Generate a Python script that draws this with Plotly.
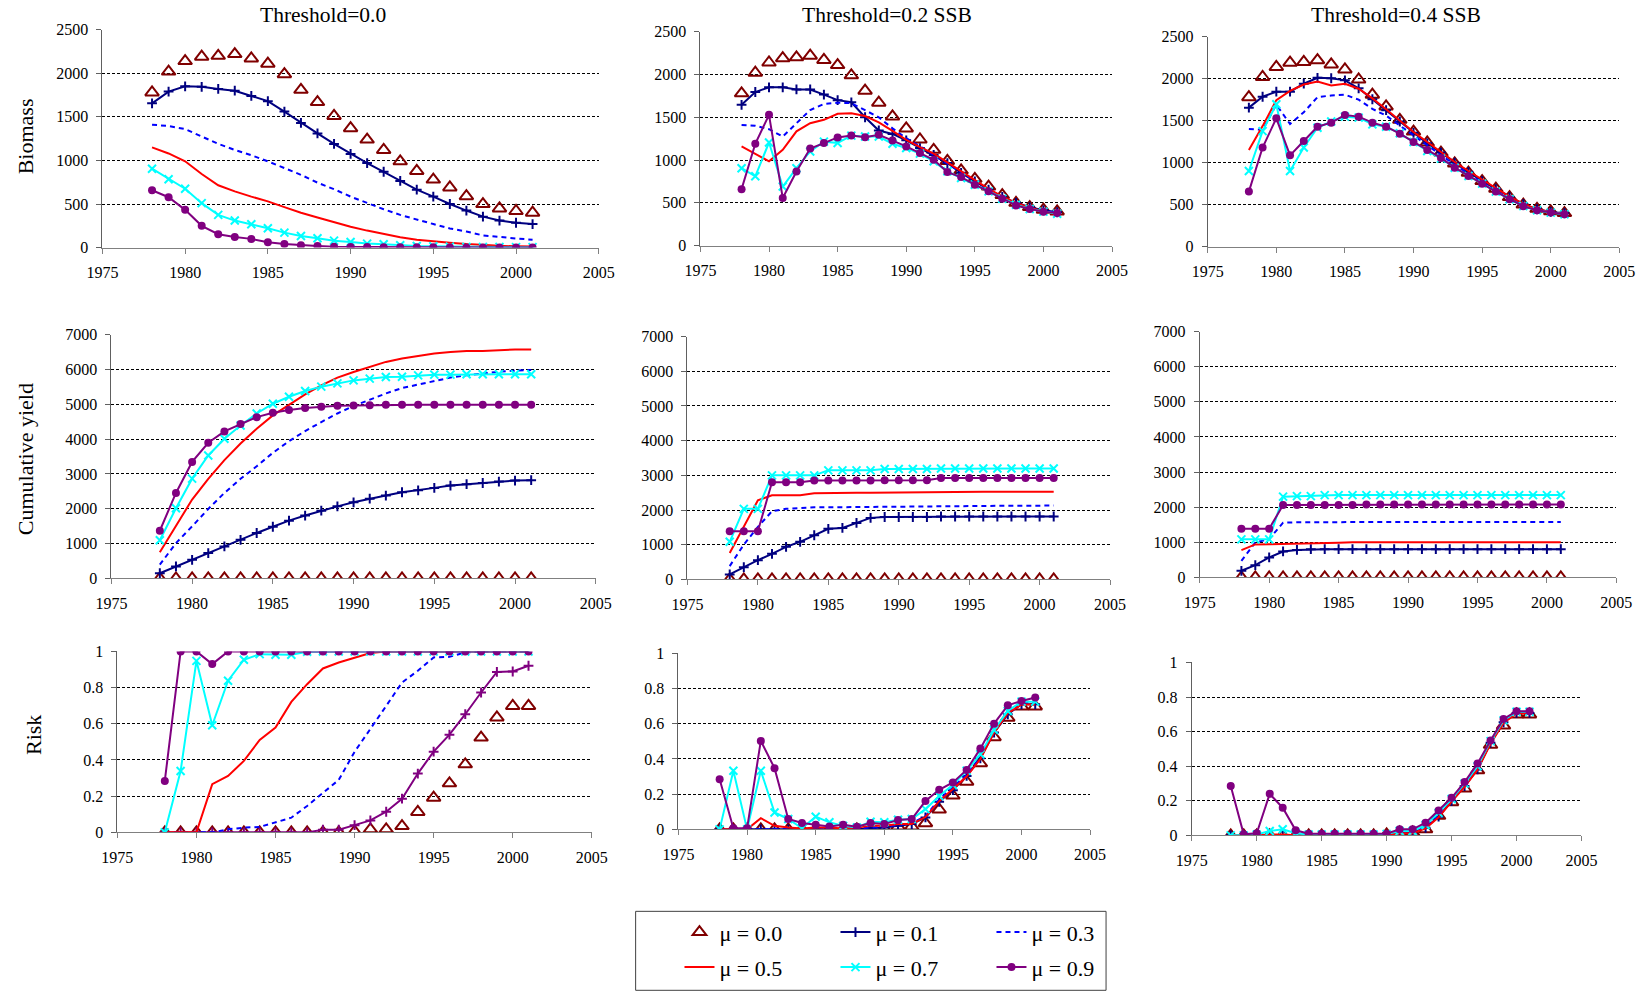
import plotly.graph_objects as go

years = [1978, 1979, 1980, 1981, 1982, 1983, 1984, 1985, 1986, 1987, 1988, 1989,
         1990, 1991, 1992, 1993, 1994, 1995, 1996, 1997, 1998, 1999, 2000, 2001]

mu_labels = ["μ = 0.0", "μ = 0.1", "μ = 0.3", "μ = 0.5", "μ = 0.7", "μ = 0.9"]
thresholds = ["Threshold=0.0", "Threshold=0.2 SSB", "Threshold=0.4 SSB"]
row_titles = ["Biomass", "Cumulative yield", "Risk"]

# ---------------- Biomass ----------------
biomass_mu00 = [1780, 2020, 2140, 2190, 2200, 2220, 2170, 2110, 1990, 1810, 1670, 1510,
                1370, 1240, 1120, 990, 880, 780, 690, 590, 500, 450, 420, 400]

biomass_t00_mu01 = [1655, 1790, 1850, 1845, 1820, 1800, 1740, 1680, 1560, 1430, 1310, 1190,
                    1075, 970, 870, 765, 665, 585, 500, 425, 355, 310, 285, 270]
biomass_t00_mu03 = [1410, 1395, 1360, 1275, 1190, 1120, 1060, 990, 910, 835, 745, 670,
                    585, 510, 440, 375, 320, 270, 220, 185, 140, 120, 105, 90]
biomass_t00_mu05 = [1150, 1080, 990, 845, 715, 645, 585, 530, 465, 400, 345, 290,
                    240, 195, 155, 120, 90, 70, 55, 40, 28, 20, 15, 12]
biomass_t00_mu07 = [905, 785, 675, 510, 375, 310, 268, 222, 172, 134, 107, 80,
                    65, 46, 38, 27, 19, 15, 11, 8, 7, 6, 5, 5]
biomass_t00_mu09 = [658, 578, 433, 250, 153, 122, 100, 61, 42, 27, 19, 11,
                    8, 6, 5, 4, 3, 3, 2, 2, 2, 2, 2, 2]

biomass_t02_mu01 = [1645, 1795, 1850, 1850, 1825, 1825, 1765, 1700, 1675, 1500, 1345, 1305,
                    1230, 1140, 1060, 965, 850, 750, 655, 570, 500, 448, 412, 390]
biomass_t02_mu03 = [1410, 1400, 1360, 1275, 1430, 1585, 1655, 1670, 1665, 1585, 1500, 1370,
                    1255, 1160, 1060, 955, 850, 750, 655, 570, 490, 440, 408, 382]
biomass_t02_mu05 = [1160, 1075, 985, 1120, 1335, 1430, 1470, 1540, 1548, 1515, 1440, 1340,
                    1235, 1150, 1075, 972, 868, 762, 662, 575, 498, 443, 404, 362]
biomass_t02_mu07 = [905, 810, 1205, 690, 905, 1100, 1215, 1200, 1285, 1275, 1275, 1190,
                    1140, 1075, 985, 868, 790, 712, 634, 548, 478, 428, 397, 373]
biomass_t02_mu09 = [660, 1190, 1528, 556, 867, 1135, 1198, 1264, 1287, 1267, 1295, 1229,
                    1159, 1081, 1003, 859, 801, 712, 634, 548, 470, 428, 397, 381]

biomass_t04_mu01 = [1655, 1785, 1845, 1845, 1940, 2010, 2005, 1980, 1885, 1755, 1625, 1490,
                    1355, 1230, 1120, 1000, 890, 780, 685, 590, 505, 445, 413, 397]
biomass_t04_mu03 = [1400, 1390, 1690, 1460, 1600, 1780, 1800, 1810, 1750, 1640, 1560, 1440,
                    1320, 1200, 1090, 975, 865, 765, 665, 575, 490, 435, 405, 385]
biomass_t04_mu05 = [1150, 1435, 1745, 1855, 1930, 1965, 1920, 1940, 1880, 1765, 1635, 1495,
                    1365, 1245, 1125, 1008, 900, 795, 690, 595, 512, 444, 413, 385]
biomass_t04_mu07 = [900, 1375, 1695, 900, 1180, 1415, 1490, 1548, 1536, 1456, 1428, 1349,
                    1246, 1139, 1048, 940, 841, 750, 655, 563, 484, 432, 405, 385]
biomass_t04_mu09 = [655, 1180, 1528, 1087, 1258, 1428, 1476, 1567, 1548, 1476, 1428, 1345,
                    1246, 1151, 1056, 940, 841, 750, 655, 563, 480, 432, 405, 385]

# ---------------- Cumulative yield ----------------
yield_mu00 = [0, 0, 0, 0, 0, 0, 0, 0, 0, 0, 0, 0, 0, 0, 0, 0, 0, 0, 0, 0, 0, 0, 0, 0]

yield_t00_mu01 = [150, 345, 535, 730, 920, 1110, 1305, 1485, 1660, 1805, 1945, 2070,
                  2185, 2290, 2380, 2475, 2530, 2600, 2665, 2705, 2740, 2780, 2810, 2820]
yield_t00_mu03 = [395, 1015, 1495, 1995, 2455, 2860, 3220, 3605, 3940, 4230, 4490, 4735,
                  4950, 5140, 5310, 5465, 5570, 5665, 5765, 5830, 5890, 5935, 5965, 5985]
yield_t00_mu05 = [750, 1495, 2265, 2860, 3395, 3875, 4295, 4680, 4995, 5285, 5540, 5765,
                  5925, 6080, 6215, 6310, 6385, 6455, 6500, 6530, 6530, 6560, 6570, 6570]
yield_t00_mu07 = [1095, 2015, 2865, 3530, 4010, 4390, 4735, 5015, 5215, 5380, 5505, 5600,
                  5685, 5735, 5780, 5790, 5830, 5850, 5850, 5860, 5860, 5860, 5860, 5860]
yield_t00_mu09 = [1370, 2455, 3345, 3895, 4220, 4430, 4630, 4755, 4835, 4890, 4930, 4955,
                  4965, 4975, 4985, 4985, 4985, 4985, 4985, 4985, 4985, 4985, 4985, 4985]

yield_t02_mu01 = [145, 355, 555, 740, 940, 1085, 1275, 1460, 1485, 1630, 1775, 1800,
                  1800, 1800, 1800, 1815, 1815, 1815, 1815, 1815, 1815, 1815, 1815, 1815]
yield_t02_mu03 = [385, 1005, 1515, 1965, 2035, 2060, 2080, 2080, 2085, 2090, 2095, 2100,
                  2105, 2110, 2110, 2115, 2115, 2120, 2120, 2125, 2125, 2125, 2130, 2130]
yield_t02_mu05 = [765, 1535, 2280, 2425, 2425, 2425, 2485, 2495, 2500, 2500, 2500, 2505,
                  2505, 2510, 2530, 2530, 2530, 2530, 2530, 2530, 2530, 2530, 2530, 2530]
yield_t02_mu07 = [1085, 2035, 2035, 3000, 3000, 3000, 3000, 3145, 3145, 3145, 3145, 3185,
                  3185, 3185, 3185, 3200, 3200, 3200, 3200, 3200, 3200, 3200, 3200, 3200]
yield_t02_mu09 = [1390, 1390, 1390, 2800, 2800, 2800, 2855, 2855, 2855, 2855, 2855, 2860,
                  2860, 2860, 2860, 2925, 2925, 2925, 2925, 2925, 2925, 2925, 2925, 2925]

yield_t04_mu01 = [190, 350, 570, 740, 785, 805, 805, 805, 805, 805, 805, 805,
                  805, 805, 805, 805, 805, 805, 805, 805, 805, 805, 805, 805]
yield_t04_mu03 = [475, 995, 1090, 1560, 1570, 1575, 1580, 1580, 1580, 1580, 1580, 1580,
                  1580, 1580, 1580, 1580, 1580, 1580, 1580, 1580, 1580, 1580, 1580, 1580]
yield_t04_mu05 = [780, 940, 945, 950, 955, 960, 980, 990, 1000, 1005, 1005, 1005,
                  1005, 1005, 1005, 1005, 1005, 1005, 1005, 1005, 1005, 1005, 1005, 1005]
yield_t04_mu07 = [1085, 1085, 1085, 2300, 2315, 2315, 2345, 2345, 2345, 2345, 2345, 2345,
                  2345, 2345, 2345, 2345, 2345, 2345, 2345, 2345, 2345, 2345, 2345, 2345]
yield_t04_mu09 = [1390, 1390, 1390, 2060, 2060, 2060, 2060, 2060, 2060, 2080, 2080, 2080,
                  2080, 2080, 2080, 2080, 2080, 2080, 2080, 2080, 2080, 2080, 2080, 2080]

# ---------------- Risk ----------------
risk_mu00 = [0, 0, 0, 0, 0, 0, 0, 0, 0, 0, 0, 0,
             0.005, 0.017, 0.017, 0.035, 0.113, 0.192, 0.271, 0.376, 0.524, 0.635, 0.699, 0.699]

risk_t00_mu01 = [0, 0, 0, 0, 0, 0, 0, 0, 0, 0, 0.015, 0.015,
                 0.04, 0.066, 0.114, 0.186, 0.325, 0.446, 0.54, 0.653, 0.773, 0.887, 0.889, 0.921]
risk_t00_mu03 = [0, 0, 0, 0, 0.017, 0.026, 0.03, 0.054, 0.081, 0.146, 0.216, 0.29,
                 0.445, 0.57, 0.699, 0.828, 0.893, 0.967, 0.97, 0.994, 1, 1, 1, 1]
risk_t00_mu05 = [0, 0, 0, 0.266, 0.312, 0.395, 0.511, 0.579, 0.721, 0.819, 0.906, 0.939,
                 0.967, 0.991, 1, 1, 1, 1, 1, 1, 1, 1, 1, 1]
risk_t00_mu07 = [0, 0.339, 0.948, 0.592, 0.838, 0.954, 0.985, 0.982, 0.982, 0.998, 1, 1,
                 1, 1, 1, 1, 1, 1, 1, 1, 1, 1, 1, 1]
risk_t00_mu09 = [0.284, 1, 1, 0.93, 1, 1, 1, 1, 1, 1, 1, 1,
                 1, 1, 1, 1, 1, 1, 1, 1, 1, 1, 1, 1]

risk_t02_mu01 = [0, 0, 0, 0, 0, 0, 0, 0, 0, 0, 0, 0.006,
                 0.01, 0.02, 0.03, 0.068, 0.157, 0.223, 0.304, 0.404, 0.55, 0.654, 0.711, 0.711]
risk_t02_mu03 = [0, 0, 0, 0, 0, 0, 0, 0, 0, 0, 0.005, 0.01,
                 0.015, 0.025, 0.035, 0.075, 0.17, 0.24, 0.31, 0.41, 0.56, 0.665, 0.72, 0.72]
risk_t02_mu05 = [0, 0, 0, 0.064, 0.02, 0.01, 0.005, 0.01, 0.01, 0.005, 0.01, 0.02,
                 0.02, 0.03, 0.03, 0.07, 0.16, 0.23, 0.3, 0.4, 0.55, 0.66, 0.71, 0.71]
risk_t02_mu07 = [0, 0.333, 0, 0.333, 0.096, 0.059, 0.006, 0.072, 0.04, 0.02, 0.011, 0.043,
                 0.04, 0.055, 0.059, 0.115, 0.19, 0.253, 0.333, 0.427, 0.565, 0.673, 0.726, 0.726]
risk_t02_mu09 = [0.285, 0.006, 0.006, 0.503, 0.348, 0.059, 0.036, 0.026, 0.017, 0.026, 0.015, 0.036,
                 0.03, 0.053, 0.059, 0.161, 0.225, 0.267, 0.338, 0.459, 0.601, 0.705, 0.73, 0.749]

risk_t04_mu01 = [0, 0, 0, 0, 0, 0, 0, 0, 0, 0, 0, 0,
                 0, 0.015, 0.015, 0.044, 0.108, 0.198, 0.285, 0.381, 0.535, 0.654, 0.708, 0.708]
risk_t04_mu03 = [0, 0, 0, 0, 0, 0, 0, 0, 0, 0, 0, 0,
                 0.003, 0.018, 0.018, 0.05, 0.115, 0.205, 0.29, 0.39, 0.54, 0.66, 0.71, 0.71]
risk_t04_mu05 = [0, 0, 0, 0.005, 0.005, 0, 0, 0, 0, 0, 0, 0,
                 0, 0.012, 0.012, 0.04, 0.105, 0.195, 0.28, 0.38, 0.53, 0.65, 0.705, 0.705]
risk_t04_mu07 = [0, 0, 0.005, 0.025, 0.035, 0.012, 0.005, 0.005, 0.005, 0.005, 0.005, 0.005,
                 0.008, 0.025, 0.025, 0.06, 0.13, 0.21, 0.3, 0.4, 0.545, 0.665, 0.715, 0.715]
risk_t04_mu09 = [0.285, 0.006, 0.012, 0.24, 0.16, 0.029, 0.01, 0.01, 0.01, 0.01, 0.01, 0.01,
                 0.01, 0.035, 0.035, 0.073, 0.144, 0.217, 0.308, 0.415, 0.548, 0.673, 0.717, 0.717]

panels = [
    [biomass_mu00, biomass_t00_mu01, biomass_t00_mu03, biomass_t00_mu05, biomass_t00_mu07, biomass_t00_mu09],
    [biomass_mu00, biomass_t02_mu01, biomass_t02_mu03, biomass_t02_mu05, biomass_t02_mu07, biomass_t02_mu09],
    [biomass_mu00, biomass_t04_mu01, biomass_t04_mu03, biomass_t04_mu05, biomass_t04_mu07, biomass_t04_mu09],
    [yield_mu00, yield_t00_mu01, yield_t00_mu03, yield_t00_mu05, yield_t00_mu07, yield_t00_mu09],
    [yield_mu00, yield_t02_mu01, yield_t02_mu03, yield_t02_mu05, yield_t02_mu07, yield_t02_mu09],
    [yield_mu00, yield_t04_mu01, yield_t04_mu03, yield_t04_mu05, yield_t04_mu07, yield_t04_mu09],
    [risk_mu00, risk_t00_mu01, risk_t00_mu03, risk_t00_mu05, risk_t00_mu07, risk_t00_mu09],
    [risk_mu00, risk_t02_mu01, risk_t02_mu03, risk_t02_mu05, risk_t02_mu07, risk_t02_mu09],
    [risk_mu00, risk_t04_mu01, risk_t04_mu03, risk_t04_mu05, risk_t04_mu07, risk_t04_mu09],
]

W, H = 1648, 993
FONT = "Liberation Serif, Times New Roman, serif"

# the drawing area (paper 0..1) as it lands in the photographed page, in pixels
PX0, PXW = 13.3, 1621.4
PY0, PYH = 8.3, 976.4


def px(xp):
    return (xp - PX0) / PXW


def py(yp):
    return 1 - (yp - PY0) / PYH


# pixel boxes of each plot area: (x_left, x_right, y_top, y_bottom)
boxes = [
    (100, 598, 30, 248), (700, 1113, 32, 246), (1209, 1622, 37, 247),
    (109, 595, 335, 579), (687, 1111, 337, 580), (1201, 1619, 332, 578),
    (115, 591, 652, 833), (678, 1091, 654, 830), (1193, 1584, 663, 836),
]
yranges = [(2500, 500)] * 3 + [(7000, 1000)] * 3 + [(1, 0.2)] * 3

styles = [
    dict(mode="markers", marker=dict(symbol="triangle-up-open", size=12, color="#800000",
                                     line=dict(width=2, color="#800000"))),
    dict(mode="lines+markers", line=dict(color="#000080", width=2),
         marker=dict(symbol="cross-thin", size=7, color="#000080", line=dict(width=2, color="#000080"))),
    dict(mode="lines", line=dict(color="#0000FF", width=2, dash="5px,4px")),
    dict(mode="lines", line=dict(color="#FF0000", width=2)),
    dict(mode="lines+markers", line=dict(color="#00FFFF", width=2),
         marker=dict(symbol="x-thin", size=8, color="#00FFFF", line=dict(width=2, color="#00FFFF"))),
    dict(mode="lines+markers", line=dict(color="#800080", width=2),
         marker=dict(symbol="circle", size=8, color="#800080")),
]

fig = go.Figure()
for p, series in enumerate(panels):
    k = p + 1
    xa = "x" if k == 1 else f"x{k}"
    ya = "y" if k == 1 else f"y{k}"
    for s, vals in enumerate(series):
        st = {key: (dict(v) if isinstance(v, dict) else v) for key, v in styles[s].items()}
        if p == 6 and s == 1:
            st["line"] = dict(color="#800080", width=2)
            st["marker"] = dict(symbol="cross-thin", size=7, color="#800080",
                                line=dict(width=2, color="#800080"))
        fig.add_trace(go.Scatter(
            x=years, y=vals, name=mu_labels[s], xaxis=xa, yaxis=ya,
            showlegend=(p == 0), legend=("legend" if s < 3 else "legend2"),
            hoverinfo="skip", **st))

    xl, xr, yt, yb = boxes[p]
    ymax, dt = yranges[p]
    axis_font = dict(family=FONT, size=16, color="black")
    fig.layout[f"xaxis{k if k > 1 else ''}"] = dict(
        domain=[px(xl), px(xr)], anchor=ya, range=[1975, 2005], tick0=1975, dtick=5,
        showline=True, linecolor="#808080", linewidth=1, ticks="outside", ticklen=5,
        tickcolor="#808080", showgrid=False, zeroline=False, tickfont=axis_font,
        ticklabelstandoff=5, fixedrange=True)
    fig.layout[f"yaxis{k if k > 1 else ''}"] = dict(
        domain=[py(yb), py(yt)], anchor=xa, range=[0, ymax], tick0=0, dtick=dt,
        showline=True, linecolor="#606060", linewidth=1, ticks="outside", ticklen=5,
        tickcolor="#606060", showgrid=True, gridcolor="black", gridwidth=1,
        griddash="3px,2px", zeroline=False, tickfont=axis_font, ticklabelstandoff=5,
        fixedrange=True)

annotations = []
title_x = [321, 887, 1398]
for i, t in enumerate(thresholds):
    annotations.append(dict(text=t, x=px(title_x[i]), y=py(15), xref="paper", yref="paper",
                            showarrow=False, font=dict(family=FONT, size=21.5, color="black"),
                            xanchor="center", yanchor="middle"))
row_y = [137, 460, 736]
row_x = [23, 23, 31]
for i, t in enumerate(row_titles):
    annotations.append(dict(text=t, x=px(row_x[i]), y=py(row_y[i]), xref="paper", yref="paper",
                            showarrow=False, textangle=-90,
                            font=dict(family=FONT, size=22, color="black"),
                            xanchor="center", yanchor="middle"))

legend_common = dict(orientation="h", xanchor="left", yanchor="middle", bgcolor="rgba(0,0,0,0)",
                     font=dict(family=FONT, size=22, color="black"), entrywidth=111,
                     entrywidthmode="pixels", itemwidth=30, tracegroupgap=0)
fig.update_layout(
    width=W, height=H, margin=dict(l=0, r=0, t=0, b=0),
    paper_bgcolor="white", plot_bgcolor="white",
    annotations=annotations,
    legend=dict(x=px(679), y=py(933), **legend_common),
    legend2=dict(x=px(679), y=py(968), **legend_common),
    shapes=[dict(type="rect", xref="paper", yref="paper", x0=px(635), x1=px(1107),
                 y0=py(991), y1=py(912), line=dict(color="#404040", width=1))],
    showlegend=True,
)

fig.write_html(
    "out.html",
    config={"displayModeBar": False, "staticPlot": True},
    post_script=("document.documentElement.style.margin='0px';"
                 "document.body.style.margin='0px';"
                 "document.documentElement.style.overflow='hidden';"
                 "document.body.style.overflow='hidden';"),
)
